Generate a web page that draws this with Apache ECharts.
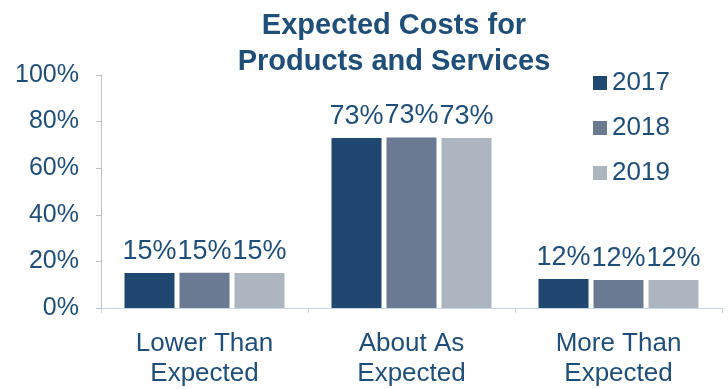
<!DOCTYPE html>
<html>
<head>
<meta charset="utf-8">
<script src="https://cdn.jsdelivr.net/npm/echarts@6/dist/echarts.min.js"></script>
<style>
html,body{margin:0;padding:0;background:#fff;}
#chart{width:728px;height:389px;}
</style>
</head>
<body>
<div id="chart"></div>
<script>
const categories = ['Lower Than\nExpected', 'About As\nExpected', 'More Than\nExpected'];
const seriesNames = ['2017', '2018', '2019'];
const values2017 = [15, 73, 12.4];
const values2018 = [15.1, 73.2, 12];
const values2019 = [15, 73, 12];
const yTicks = [0, 20, 40, 60, 80, 100];
const colors = ['#1F4770', '#6A7A92', '#ADB5C0'];
const textColor = '#1F4E79';
const font = "'Liberation Sans', Arial, sans-serif";

const allValues = [values2017, values2018, values2019];
const chart = echarts.init(document.getElementById('chart'), null, {renderer: 'canvas'});
chart.setOption({
  animation: false,
  textStyle: {fontFamily: font},
  title: {
    text: 'Expected Costs for\nProducts and Services',
    left: 389,
    top: 3,
    textAlign: 'center',
    textStyle: {fontFamily: font, fontSize: 29, fontWeight: 'bold', color: textColor, lineHeight: 36}
  },
  legend: {
    orient: 'vertical',
    left: 588,
    top: 65,
    itemWidth: 14,
    itemHeight: 14,
    itemGap: 19,
    icon: 'rect',
    data: seriesNames,
    textStyle: {fontFamily: font, fontSize: 26, color: textColor}
  },
  grid: {left: 101, right: 6, top: 75, bottom: 76, containLabel: false},
  xAxis: {
    type: 'category',
    data: categories,
    axisLine: {lineStyle: {color: '#CBD3E6', width: 1}},
    axisTick: {show: true, length: 5, lineStyle: {color: '#CBD3E6'}},
    axisLabel: {fontFamily: font, fontSize: 26, color: textColor, lineHeight: 30, margin: 21, interval: 0}
  },
  yAxis: {
    type: 'value',
    min: yTicks[0],
    max: yTicks[yTicks.length - 1],
    interval: 20,
    axisLine: {show: true, lineStyle: {color: '#BFBFBF', width: 1}},
    axisTick: {show: true, length: 5, lineStyle: {color: '#BFBFBF'}},
    splitLine: {show: false},
    axisLabel: {fontFamily: font, fontSize: 25, color: textColor, margin: 22, formatter: '{value}%'}
  },
  series: seriesNames.map((name, i) => ({
    name: name,
    type: 'bar',
    data: allValues[i],
    barWidth: 50,
    barGap: '10%',
    itemStyle: {color: colors[i]},
    label: {
      show: true,
      position: 'top',
      distance: 8,
      fontFamily: font,
      fontSize: 27,
      color: textColor,
      formatter: p => Math.round(p.value) + '%'
    }
  }))
});
</script>
</body>
</html>
